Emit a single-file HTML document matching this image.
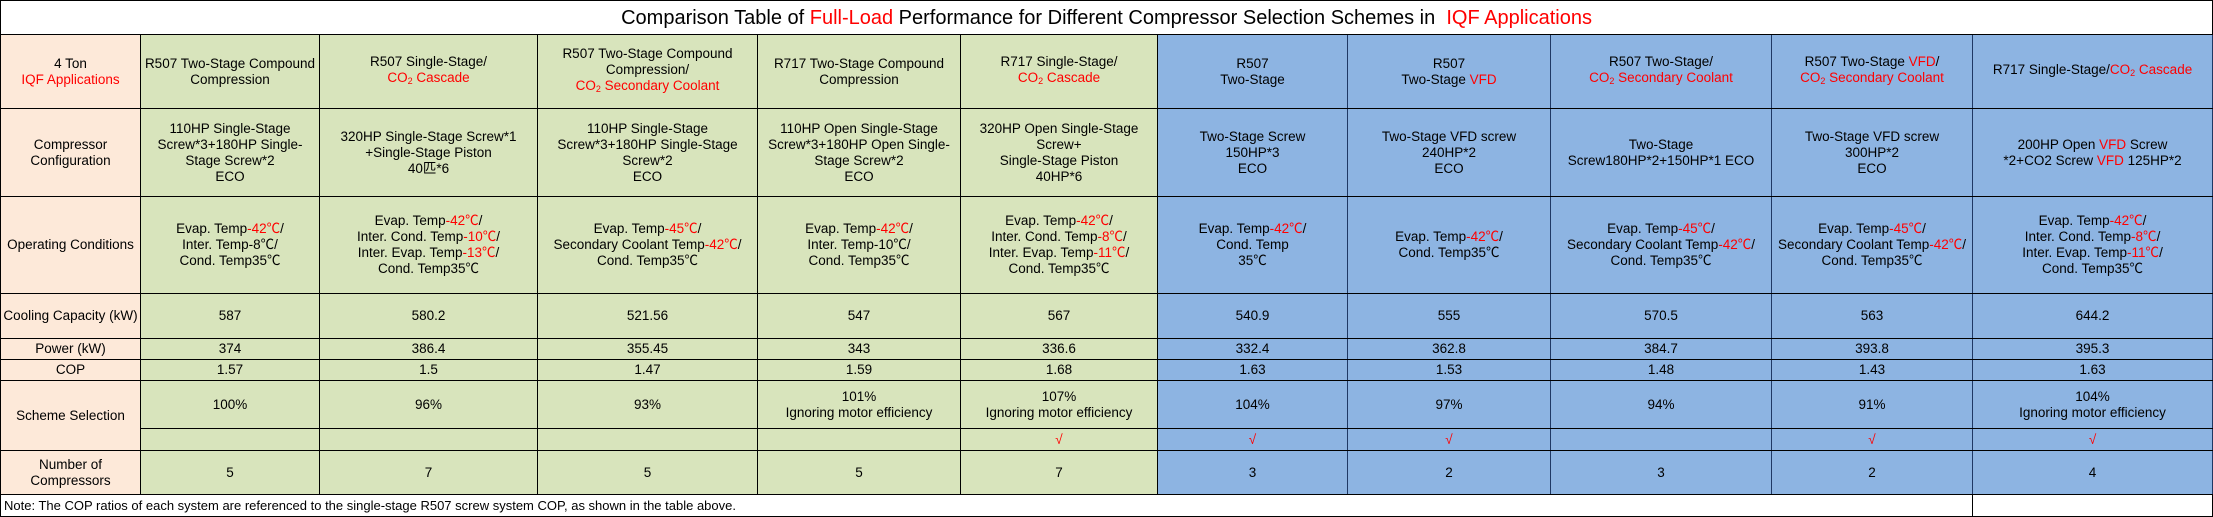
<!DOCTYPE html>
<html><head><meta charset="utf-8"><style>
*{margin:0;padding:0;box-sizing:border-box}
body{width:2213px;height:517px;background:#fff;font-family:"Liberation Sans","Noto Sans CJK SC",sans-serif;font-size:13.5px;color:#000;overflow:hidden}
table{border-collapse:collapse;table-layout:fixed;width:2212px;position:absolute;left:0;top:0}
td{border:1.5px solid #000;text-align:center;vertical-align:middle;line-height:16px;white-space:nowrap;overflow:hidden}
.t{font-size:20px;height:34px;border:1.5px solid #000}
.p{background:#fde9d9}
.g{background:#d8e4bc}
.b{background:#8db4e2;border-left:1px solid #1f3864;border-right:1px solid #1f3864}
.r{color:#f00}
sub{font-size:9px;vertical-align:-2px}
.n{text-align:left;padding-left:3px;font-size:13px}
</style></head><body>
<table>
<colgroup><col style="width:140px"><col style="width:179px"><col style="width:218px"><col style="width:220px"><col style="width:203px"><col style="width:197px"><col style="width:190px"><col style="width:203px"><col style="width:221px"><col style="width:201px"><col style="width:240px"></colgroup>
<tr><td colspan="11" class="t">Comparison Table of <span class="r">Full-Load</span> Performance for Different Compressor Selection Schemes in&nbsp; <span class="r">IQF Applications</span></td></tr>
<tr style="height:74px">
<td class="p">4 Ton<br><span class="r">IQF Applications</span></td>
<td class="g">R507 Two-Stage Compound<br>Compression</td>
<td class="g">R507 Single-Stage/<br><span class="r">CO<sub>2</sub> Cascade</span></td>
<td class="g">R507 Two-Stage Compound<br>Compression/<br><span class="r">CO<sub>2</sub> Secondary Coolant</span></td>
<td class="g">R717 Two-Stage Compound<br>Compression</td>
<td class="g">R717 Single-Stage/<br><span class="r">CO<sub>2</sub> Cascade</span></td>
<td class="b">R507<br>Two-Stage</td>
<td class="b">R507<br>Two-Stage <span class="r">VFD</span></td>
<td class="b">R507 Two-Stage/<br><span class="r">CO<sub>2</sub> Secondary Coolant</span></td>
<td class="b">R507 Two-Stage <span class="r">VFD</span>/<br><span class="r">CO<sub>2</sub> Secondary Coolant</span></td>
<td class="b">R717 Single-Stage/<span class="r">CO<sub>2</sub> Cascade</span></td></tr>
<tr style="height:88px">
<td class="p">Compressor<br>Configuration</td>
<td class="g">110HP Single-Stage<br>Screw*3+180HP Single-<br>Stage Screw*2<br>ECO</td>
<td class="g">320HP Single-Stage Screw*1<br>+Single-Stage Piston<br>40匹*6</td>
<td class="g">110HP Single-Stage<br>Screw*3+180HP Single-Stage<br>Screw*2<br>ECO</td>
<td class="g">110HP Open Single-Stage<br>Screw*3+180HP Open Single-<br>Stage Screw*2<br>ECO</td>
<td class="g">320HP Open Single-Stage<br>Screw+<br>Single-Stage Piston<br>40HP*6</td>
<td class="b">Two-Stage Screw<br>150HP*3<br>ECO</td>
<td class="b">Two-Stage VFD screw<br>240HP*2<br>ECO</td>
<td class="b">Two-Stage<br>Screw180HP*2+150HP*1 ECO</td>
<td class="b">Two-Stage VFD screw<br>300HP*2<br>ECO</td>
<td class="b">200HP Open <span class="r">VFD</span> Screw<br>*2+CO2 Screw <span class="r">VFD</span> 125HP*2</td></tr>
<tr style="height:97px">
<td class="p">Operating Conditions</td>
<td class="g">Evap. Temp<span class="r">-42℃</span>/<br>Inter. Temp-8℃/<br>Cond. Temp35℃</td>
<td class="g">Evap. Temp<span class="r">-42℃</span>/<br>Inter. Cond. Temp<span class="r">-10℃</span>/<br>Inter. Evap. Temp<span class="r">-13℃</span>/<br>Cond. Temp35℃</td>
<td class="g">Evap. Temp<span class="r">-45℃</span>/<br>Secondary Coolant Temp<span class="r">-42℃</span>/<br>Cond. Temp35℃</td>
<td class="g">Evap. Temp<span class="r">-42℃</span>/<br>Inter. Temp-10℃/<br>Cond. Temp35℃</td>
<td class="g">Evap. Temp<span class="r">-42℃</span>/<br>Inter. Cond. Temp<span class="r">-8℃</span>/<br>Inter. Evap. Temp<span class="r">-11℃</span>/<br>Cond. Temp35℃</td>
<td class="b">Evap. Temp<span class="r">-42℃</span>/<br>Cond. Temp<br>35℃</td>
<td class="b">Evap. Temp<span class="r">-42℃</span>/<br>Cond. Temp35℃</td>
<td class="b">Evap. Temp<span class="r">-45℃</span>/<br>Secondary Coolant Temp<span class="r">-42℃</span>/<br>Cond. Temp35℃</td>
<td class="b">Evap. Temp<span class="r">-45℃</span>/<br>Secondary Coolant Temp<span class="r">-42℃</span>/<br>Cond. Temp35℃</td>
<td class="b">Evap. Temp<span class="r">-42℃</span>/<br>Inter. Cond. Temp<span class="r">-8℃</span>/<br>Inter. Evap. Temp<span class="r">-11℃</span>/<br>Cond. Temp35℃</td></tr>
<tr style="height:45px"><td class="p">Cooling Capacity (kW)</td><td class="g">587</td><td class="g">580.2</td><td class="g">521.56</td><td class="g">547</td><td class="g">567</td><td class="b">540.9</td><td class="b">555</td><td class="b">570.5</td><td class="b">563</td><td class="b">644.2</td></tr>
<tr style="height:21px"><td class="p">Power (kW)</td><td class="g">374</td><td class="g">386.4</td><td class="g">355.45</td><td class="g">343</td><td class="g">336.6</td><td class="b">332.4</td><td class="b">362.8</td><td class="b">384.7</td><td class="b">393.8</td><td class="b">395.3</td></tr>
<tr style="height:21px"><td class="p">COP</td><td class="g">1.57</td><td class="g">1.5</td><td class="g">1.47</td><td class="g">1.59</td><td class="g">1.68</td><td class="b">1.63</td><td class="b">1.53</td><td class="b">1.48</td><td class="b">1.43</td><td class="b">1.63</td></tr>
<tr style="height:48px"><td class="p" rowspan="2">Scheme Selection</td><td class="g">100%</td><td class="g">96%</td><td class="g">93%</td><td class="g">101%<br>Ignoring motor efficiency</td><td class="g">107%<br>Ignoring motor efficiency</td><td class="b">104%</td><td class="b">97%</td><td class="b">94%</td><td class="b">91%</td><td class="b">104%<br>Ignoring motor efficiency</td></tr>
<tr style="height:22px"><td class="g"></td><td class="g"></td><td class="g"></td><td class="g"></td><td class="g r">√</td><td class="b r">√</td><td class="b r">√</td><td class="b"></td><td class="b r">√</td><td class="b r">√</td></tr>
<tr style="height:44px"><td class="p">Number of<br>Compressors</td><td class="g">5</td><td class="g">7</td><td class="g">5</td><td class="g">5</td><td class="g">7</td><td class="b">3</td><td class="b">2</td><td class="b">3</td><td class="b">2</td><td class="b">4</td></tr>
<tr style="height:22px"><td colspan="10" class="n">Note: The COP ratios of each system are referenced to the single-stage R507 screw system COP, as shown in the table above.</td><td></td></tr>
</table>
</body></html>
